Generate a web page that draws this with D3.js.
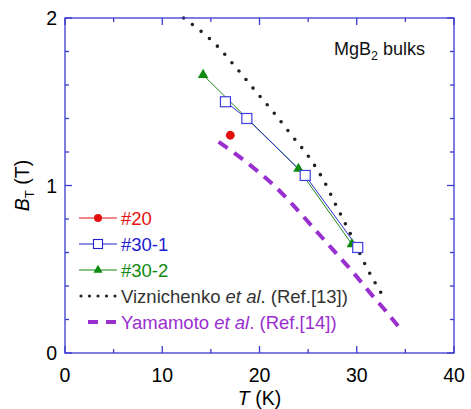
<!DOCTYPE html>
<html>
<head>
<meta charset="utf-8">
<script src="https://cdn.jsdelivr.net/npm/d3@7"></script>
<style>
  body { margin: 0; background: #fff; }
  svg text { font-family: "Liberation Sans", Arial, sans-serif; }
</style>
</head>
<body>
<div id="chart"></div>
<script>
// data: T (K), B_T (T)
const s20 = [[17.0, 1.30]];
const s30_1 = [[16.5, 1.50], [18.7, 1.40], [24.7, 1.06], [30.1, 0.63]];
const s30_2 = [[14.2, 1.66], [24.0, 1.10], [29.5, 0.65]];
const viznichenko = [[12.2, 2.0], [14.0, 1.92], [15.7, 1.83], [17.5, 1.71], [19.5, 1.57], [21.4, 1.44],
  [23.3, 1.30], [25.2, 1.16], [26.6, 1.03], [27.8, 0.89], [29.1, 0.74], [31.3, 0.48], [32.8, 0.33]];
const yamamoto = [[15.8, 1.26], [17.5, 1.19], [19.5, 1.10], [21.5, 1.00], [23.5, 0.88], [25.5, 0.75],
  [27.5, 0.62], [29.5, 0.49], [31.5, 0.35], [33.0, 0.25], [34.4, 0.15]];
const xTicks = [0, 10, 20, 30, 40];
const yTicks = [0, 1, 2];

const W = 471, H = 409;
const m = { left: 65, top: 18, right: 17, bottom: 56 };
const axisCol = "#3a3ad0";

const svg = d3.select("#chart").append("svg").attr("width", W).attr("height", H);
const x = d3.scaleLinear().domain([0, 40]).range([m.left, W - m.right]);
const y = d3.scaleLinear().domain([0, 2]).range([H - m.bottom, m.top]);
const line = d3.line().x(d => x(d[0])).y(d => y(d[1]));
const curve = d3.line().x(d => x(d[0])).y(d => y(d[1])).curve(d3.curveMonotoneX);

// reference curves
svg.append("path").datum(yamamoto).attr("d", curve)
  .attr("fill", "none").attr("stroke", "#9a2fd0").attr("stroke-width", 4)
  .attr("stroke-dasharray", "11 8");
svg.append("path").datum(viznichenko).attr("d", curve)
  .attr("fill", "none").attr("stroke", "#222").attr("stroke-width", 3.6)
  .attr("stroke-linecap", "round").attr("stroke-dasharray", "0 11");

// measured series
svg.append("path").datum(s30_2).attr("d", line)
  .attr("fill", "none").attr("stroke", "#1a8a1a").attr("stroke-width", 1);
svg.append("path").datum(s30_1).attr("d", line)
  .attr("fill", "none").attr("stroke", "#2b2bd6").attr("stroke-width", 1);

const tri = d3.symbol().type(d3.symbolTriangle).size(48);
svg.selectAll(".tri").data(s30_2).join("path")
  .attr("transform", d => `translate(${x(d[0])},${y(d[1])})`)
  .attr("d", tri).attr("fill", "#0e8a0e");
svg.selectAll(".sq").data(s30_1).join("rect")
  .attr("x", d => x(d[0]) - 5).attr("y", d => y(d[1]) - 5)
  .attr("width", 10).attr("height", 10)
  .attr("fill", "#fff").attr("stroke", "#3d3de0").attr("stroke-width", 1.2);
svg.selectAll(".dot").data(s20).join("circle")
  .attr("cx", d => x(d[0])).attr("cy", d => y(d[1])).attr("r", 4.4).attr("fill", "#e41010");

// frame and ticks (inward on all sides)
const g = svg.append("g").attr("stroke", axisCol).attr("stroke-width", 1.3);
g.append("rect").attr("x", x(0)).attr("y", y(2)).attr("width", x(40) - x(0)).attr("height", y(0) - y(2))
  .attr("fill", "none");
d3.range(0, 40.01, 5).forEach(v => {
  const len = v % 10 === 0 ? 7 : 4;
  g.append("line").attr("x1", x(v)).attr("x2", x(v)).attr("y1", y(0)).attr("y2", y(0) - len);
  g.append("line").attr("x1", x(v)).attr("x2", x(v)).attr("y1", y(2)).attr("y2", y(2) + len);
});
d3.range(0, 2.001, 0.2).forEach(v => {
  const len = Math.abs(v - Math.round(v)) < 1e-6 ? 7 : 4;
  g.append("line").attr("y1", y(v)).attr("y2", y(v)).attr("x1", x(0)).attr("x2", x(0) + len);
  g.append("line").attr("y1", y(v)).attr("y2", y(v)).attr("x1", x(40)).attr("x2", x(40) - len);
});

// tick labels
svg.selectAll(".xl").data(xTicks).join("text")
  .attr("x", d => x(d)).attr("y", y(0) + 29).attr("text-anchor", "middle")
  .attr("font-size", 19.5).text(d => d);
svg.selectAll(".yl").data(yTicks).join("text")
  .attr("x", x(0) - 8).attr("y", d => y(d) + 7).attr("text-anchor", "end")
  .attr("font-size", 19.5).text(d => d);

// axis titles
const xt = svg.append("text").attr("x", x(20)).attr("y", 405).attr("text-anchor", "middle").attr("font-size", 19.5);
xt.append("tspan").attr("font-style", "italic").text("T");
xt.append("tspan").text(" (K)");
const yt = svg.append("text").attr("transform", `translate(29,${y(1)}) rotate(-90)`)
  .attr("text-anchor", "middle").attr("font-size", 19.5);
yt.append("tspan").attr("font-style", "italic").text("B");
yt.append("tspan").attr("font-size", 13).attr("dy", 5).text("T");
yt.append("tspan").attr("dy", -5).text(" (T)");

// annotation
const ann = svg.append("text").attr("x", 334).attr("y", 55).attr("font-size", 18).attr("fill", "#111");
ann.append("tspan").text("MgB");
ann.append("tspan").attr("font-size", 12.5).attr("dy", 5).text("2");
ann.append("tspan").attr("dy", -5).text(" bulks");

// legend
const legend = [
  { label: ["#20"], color: "#e41010", kind: "dot", y: 218 },
  { label: ["#30-1"], color: "#2020d0", kind: "sq", y: 244 },
  { label: ["#30-2"], color: "#0e8a0e", kind: "tri", y: 270 },
  { label: ["Viznichenko ", "et al", ". (Ref.[13])"], color: "#333", kind: "dots", y: 296 },
  { label: ["Yamamoto ", "et al", ". (Ref.[14])"], color: "#9a2fd0", kind: "dash", y: 322 }
];
const lg = svg.append("g");
legend.forEach(L => {
  if (L.kind === "dots") {
    lg.append("line").attr("x1", 81).attr("x2", 117).attr("y1", L.y).attr("y2", L.y)
      .attr("stroke", "#222").attr("stroke-width", 3.2).attr("stroke-linecap", "round").attr("stroke-dasharray", "0 8.5");
  } else if (L.kind === "dash") {
    lg.append("line").attr("x1", 88).attr("x2", 116).attr("y1", L.y).attr("y2", L.y)
      .attr("stroke", L.color).attr("stroke-width", 4).attr("stroke-dasharray", "10 8");
  } else {
    lg.append("line").attr("x1", 79).attr("x2", 117).attr("y1", L.y).attr("y2", L.y)
      .attr("stroke", L.color).attr("stroke-width", 1);
    if (L.kind === "dot") lg.append("circle").attr("cx", 98).attr("cy", L.y).attr("r", 4).attr("fill", L.color);
    if (L.kind === "sq") lg.append("rect").attr("x", 93.5).attr("y", L.y - 4.5).attr("width", 9).attr("height", 9)
      .attr("fill", "#fff").attr("stroke", L.color).attr("stroke-width", 1.1);
    if (L.kind === "tri") lg.append("path").attr("transform", `translate(98,${L.y})`)
      .attr("d", d3.symbol().type(d3.symbolTriangle).size(36)).attr("fill", L.color);
  }
  const t = lg.append("text").attr("x", 121).attr("y", L.y + 6.5).attr("font-size", 18.5).attr("fill", L.color);
  L.label.forEach((s, i) => t.append("tspan").attr("font-style", i === 1 ? "italic" : null).text(s));
});
</script>
</body>
</html>
